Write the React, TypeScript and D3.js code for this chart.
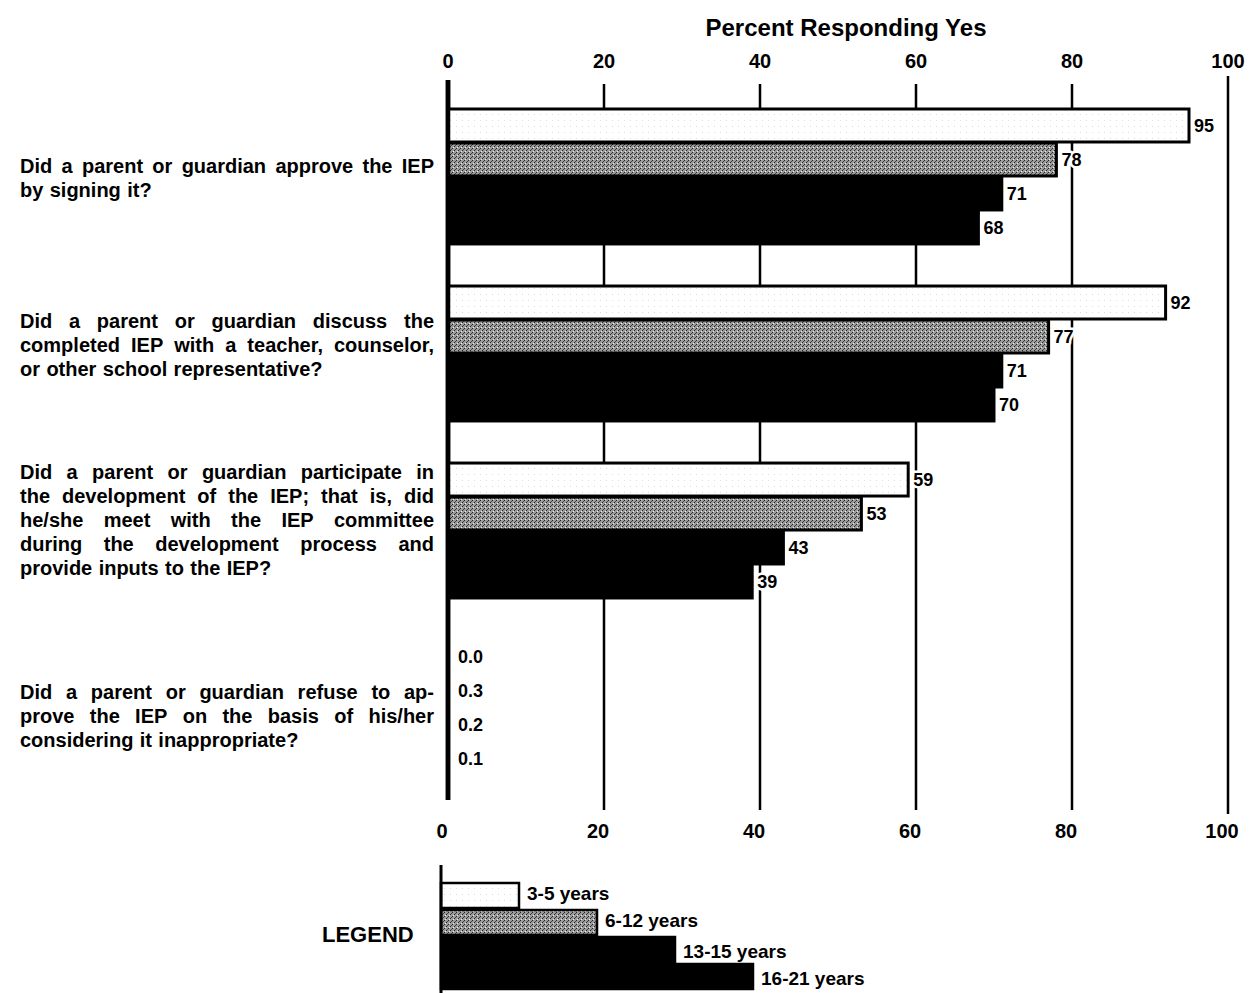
import React, { useMemo } from "react";
import * as d3 from "d3";

const questions = [
  ["Did a parent or guardian approve the IEP", "by signing it?"],
  [
    "Did a parent or guardian discuss the",
    "completed IEP with a teacher, counselor,",
    "or other school representative?",
  ],
  [
    "Did a parent or guardian participate in",
    "the development of the IEP; that is, did",
    "he/she meet with the IEP committee",
    "during the development process and",
    "provide inputs to the IEP?",
  ],
  [
    "Did a parent or guardian refuse to ap-",
    "prove the IEP on the basis of his/her",
    "considering it inappropriate?",
  ],
];
const questionIds = ["q1", "q2", "q3", "q4"];
const ageGroups = ["3-5 years", "6-12 years", "13-15 years", "16-21 years"];
const values3to5 = [95, 92, 59, 0.0];
const values6to12 = [78, 77, 53, 0.3];
const values13to15 = [71, 71, 43, 0.2];
const values16to21 = [68, 70, 39, 0.1];
const tickValues = [0, 20, 40, 60, 80, 100];
const legendValues = [10, 20, 30, 40];
const axisTitle = "Percent Responding Yes";
const legendTitle = "LEGEND";

const series = [values3to5, values6to12, values13to15, values16to21];
const fills = ["url(#dotWhite)", "url(#grayStipple)", "#000", "#000"];

const FONT = "'Liberation Sans', Arial, sans-serif";
const QFONT_SIZE = 20;
const textOffsets = [2, -8, -10, 9];

function useMeasure() {
  return useMemo(() => {
    const c = document.createElement("canvas");
    const ctx = c.getContext("2d")!;
    ctx.font = `bold ${QFONT_SIZE}px 'Liberation Sans'`;
    return (s: string) => ctx.measureText(s).width;
  }, []);
}

export default function App() {
  const measure = useMeasure();
  const W = 1255;
  const H = 993;

  const x = d3.scaleLinear().domain([0, 100]).range([448, 1228]);
  const y = d3
    .scaleBand<string>()
    .domain(questionIds)
    .range([108, 775])
    .paddingInner(0.232)
    .paddingOuter(0);
  const ys = d3
    .scaleBand<number>()
    .domain(d3.range(series.length))
    .range([0, y.bandwidth()])
    .padding(0);

  const legendX = d3.scaleLinear().domain([0, 100]).range([441, 1221]);
  const legendY = d3
    .scaleBand<string>()
    .domain(ageGroups)
    .range([882, 990])
    .padding(0);

  const textLeft = 20;
  const textRight = 434;
  const lineH = 24;

  const renderQuestion = (lines: string[], qi: number) => {
    const center = (y(questionIds[qi]) as number) + y.bandwidth() / 2 + textOffsets[qi];
    const firstBase = center - ((lines.length - 1) * lineH) / 2 + 7;
    return lines.map((line, li) => {
      const words = line.split(" ");
      const isLast = li === lines.length - 1;
      const widths = words.map((w) => measure(w));
      const sum = d3.sum(widths);
      const space = measure(" ");
      const gap = !isLast && words.length > 1 ? (textRight - textLeft - sum) / (words.length - 1) : space * 1.15;
      let cx = textLeft;
      return words.map((w, wi) => {
        const el = (
          <text
            key={`${qi}-${li}-${wi}`}
            x={cx}
            y={firstBase + li * lineH}
            fontFamily={FONT}
            fontWeight="bold"
            fontSize={QFONT_SIZE}
            fill="#000"
          >
            {w}
          </text>
        );
        cx += widths[wi] + gap;
        return el;
      });
    });
  };

  return (
    <svg width={W} height={H} style={{ position: "absolute", left: 0, top: 0, background: "#fff" }}>
      <defs>
        <pattern id="grayStipple" width="4" height="4" patternUnits="userSpaceOnUse">
          <rect width="4" height="4" fill="#9c9c9c" />
          <rect x="0" y="0" width="1" height="1" fill="#222" />
          <rect x="2" y="2" width="1" height="1" fill="#222" />
          <rect x="1" y="3" width="1" height="1" fill="#eee" />
          <rect x="3" y="1" width="1" height="1" fill="#444" />
        </pattern>
        <pattern id="dotWhite" width="6" height="6" patternUnits="userSpaceOnUse">
          <rect width="6" height="6" fill="#fff" />
          <rect x="0" y="0" width="1" height="1" fill="#ddd" />
        </pattern>
      </defs>
      <rect width={W} height={H} fill="#fff" />

      {/* title */}
      <text x={846} y={36} textAnchor="middle" fontFamily={FONT} fontWeight="bold" fontSize={24}>
        {axisTitle}
      </text>

      {/* gridlines */}
      {tickValues.map((t) => (
        <line
          key={`g${t}`}
          x1={x(t)}
          x2={x(t)}
          y1={t === 0 ? 80 : t === 100 ? 76 : 84}
          y2={t === 0 ? 800 : t === 100 ? 814 : 810}
          stroke="#000"
          strokeWidth={t === 0 ? 4.5 : 2.5}
        />
      ))}

      {/* top tick labels */}
      {tickValues.map((t) => (
        <text key={`tt${t}`} x={x(t)} y={68} textAnchor="middle" fontFamily={FONT} fontWeight="bold" fontSize={20}>
          {t}
        </text>
      ))}
      {/* bottom tick labels */}
      {tickValues.map((t) => (
        <text key={`bt${t}`} x={x(t) - 6} y={838} textAnchor="middle" fontFamily={FONT} fontWeight="bold" fontSize={20}>
          {t}
        </text>
      ))}

      {/* bars */}
      {questionIds.map((q, qi) =>
        series.map((vals, si) => {
          const v = vals[qi];
          const by = (y(q) as number) + (ys(si) as number);
          const bh = ys.bandwidth();
          const bw = x(v) - x(0);
          return (
            <g key={`b${qi}-${si}`}>
              {bw > 3 && (
                <rect
                  x={x(0)}
                  y={by + 1}
                  width={bw}
                  height={bh - 1}
                  fill={fills[si]}
                  stroke="#000"
                  strokeWidth={3}
                />
              )}
              <text
                x={bw > 3 ? x(v) + 5 : x(0) + 10}
                y={by + bh / 2 + 7}
                fontFamily={FONT}
                fontWeight="bold"
                fontSize={18}
                stroke="#fff"
                strokeWidth={5}
                strokeLinejoin="round"
                paintOrder="stroke"
              >
                {qi === 3 ? v.toFixed(1) : String(v)}
              </text>
            </g>
          );
        })
      )}

      {/* redraw zero axis on top */}
      <line x1={x(0)} x2={x(0)} y1={80} y2={800} stroke="#000" strokeWidth={4.5} />

      {/* questions */}
      {questions.map((lines, qi) => renderQuestion(lines, qi))}

      {/* legend */}
      <text x={322} y={942} fontFamily={FONT} fontWeight="bold" fontSize={22}>
        {legendTitle}
      </text>
      {ageGroups.map((g, i) => {
        const by = legendY(g) as number;
        const bh = legendY.bandwidth();
        return (
          <g key={`l${i}`}>
            <rect
              x={legendX(0)}
              y={by + 1}
              width={legendX(legendValues[i]) - legendX(0)}
              height={bh - 2}
              fill={fills[i]}
              stroke="#000"
              strokeWidth={2.5}
            />
            <text
              x={legendX(legendValues[i]) + 8}
              y={by + bh - 9 + (i >= 2 ? 4 : 0)}
              fontFamily={FONT}
              fontWeight="bold"
              fontSize={19}
            >
              {g}
            </text>
          </g>
        );
      })}
      <line x1={legendX(0)} x2={legendX(0)} y1={865} y2={993} stroke="#000" strokeWidth={3} />
    </svg>
  );
}
